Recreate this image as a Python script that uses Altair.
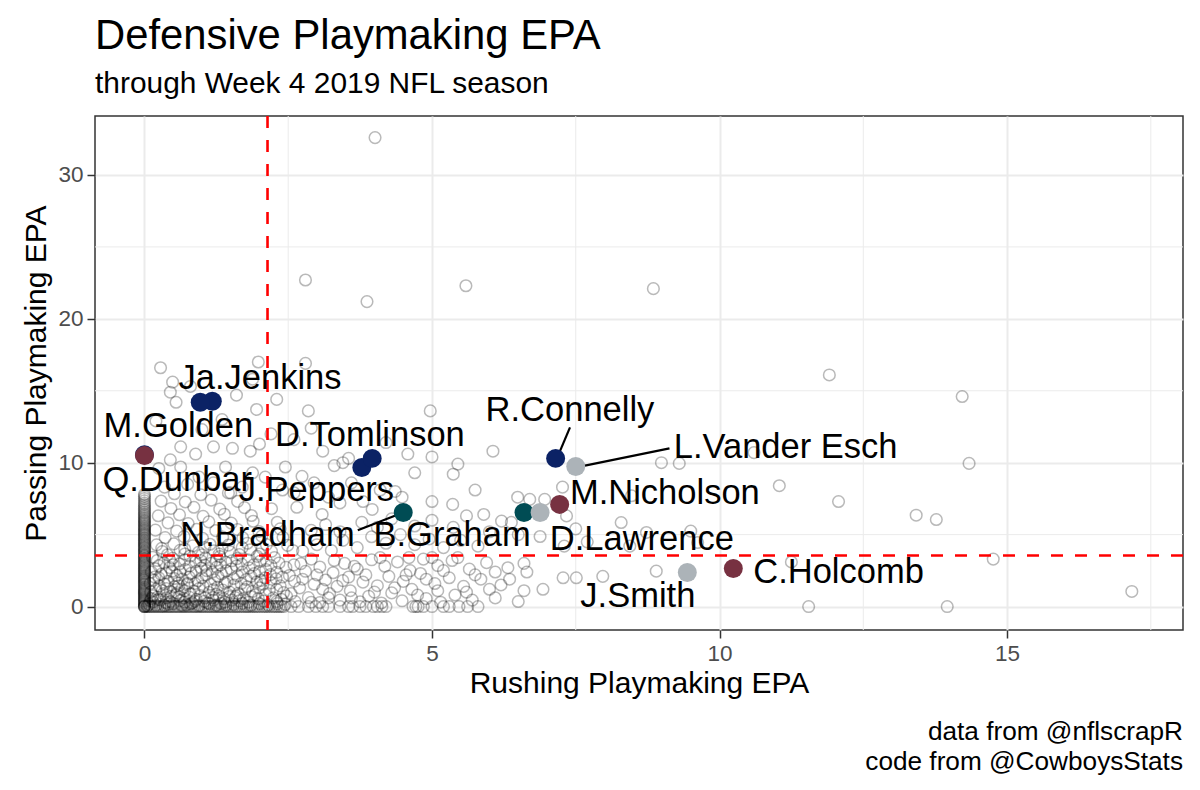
import altair as alt
import pandas as pd

# ---------------- data ----------------
# background: all defenders (rushing EPA, passing EPA)
bg_column_y = [0, 0, 0, 0.05, 0.12, 0.2, 0.27, 0.35, 0.41, 0.48, 0.55, 0.62, 0.7, 0.78, 0.86, 0.93,
               1.0, 1.08, 1.15, 1.22, 1.3, 1.38, 1.47, 1.55, 1.62, 1.7, 1.8, 1.87, 1.95, 2.02, 2.1,
               2.18, 2.28, 2.36, 2.45, 2.52, 2.6, 2.68, 2.77, 2.85, 2.93, 3.02, 3.1, 3.18, 3.28, 3.36,
               3.45, 3.52, 3.6, 3.7, 3.78, 3.86, 3.95, 4.04, 4.12, 4.2, 4.3, 4.38, 4.46, 4.55, 4.63,
               4.72, 4.8, 4.9, 4.98, 5.06, 5.15, 5.24, 5.33, 5.42, 5.5, 5.6, 5.7, 5.78, 5.88, 5.96,
               6.05, 6.15, 6.25, 6.36, 6.47, 6.58, 6.7, 6.82, 6.95, 7.08, 7.2, 7.35, 7.5, 7.65, 7.8]
bg_row_x = [0.04, 0.07, 0.1, 0.13, 0.17, 0.2, 0.23, 0.27, 0.3, 0.33, 0.36, 0.4, 0.43, 0.46, 0.5,
            0.53, 0.57, 0.6, 0.64, 0.67, 0.7, 0.74, 0.77, 0.81, 0.85, 0.88, 0.92, 0.95, 0.99, 1.02,
            1.06, 1.1, 1.13, 1.17, 1.21, 1.24, 1.28, 1.31, 1.35, 1.39, 1.42, 1.46, 1.5, 1.54, 1.58,
            1.61, 1.65, 1.69, 1.73, 1.77, 1.8, 1.84, 1.88, 1.92, 1.96, 2.0, 2.05, 2.09, 2.13, 2.17,
            2.22, 2.26, 2.3, 2.34, 2.38, 2.42, 2.55, 2.68, 2.85, 2.98, 3.1, 3.2, 3.4, 3.55, 3.62,
            3.75, 3.85, 3.98, 4.05, 4.13, 4.2, 4.67, 4.72, 4.76, 4.85, 5.0, 5.2, 5.3, 5.47, 5.62,
            5.8, 11.55, 13.96]
bg_dense = [
    (0.15, 0.32), (0.37, 0.28), (0.62, 0.41), (0.83, 0.25), (1.04, 0.36), (1.33, 0.22), (1.52, 0.45),
    (1.81, 0.3), (2.07, 0.38), (2.31, 0.2), (0.22, 0.64), (0.46, 0.71), (0.68, 0.58), (0.97, 0.77),
    (1.18, 0.62), (1.47, 0.69), (1.72, 0.55), (1.93, 0.81), (2.24, 0.6), (2.47, 0.73), (0.11, 1.02),
    (0.31, 1.11), (0.57, 0.95), (0.86, 1.08), (1.12, 0.99), (1.36, 1.15), (1.63, 0.92), (1.88, 1.06),
    (2.17, 1.13), (2.42, 0.97), (0.26, 1.43), (0.52, 1.37), (0.74, 1.52), (1.02, 1.41), (1.27, 1.35),
    (1.56, 1.49), (1.79, 1.38), (2.06, 1.55), (2.36, 1.44), (0.16, 1.83), (0.41, 1.76), (0.66, 1.91),
    (0.93, 1.79), (1.22, 1.86), (1.44, 1.72), (1.77, 1.88), (2.02, 1.81), (2.29, 1.93), (2.61, 1.77),
    (0.29, 2.24), (0.56, 2.17), (0.81, 2.31), (1.07, 2.2), (1.34, 2.27), (1.62, 2.13), (1.91, 2.3),
    (2.19, 2.22), (2.52, 2.16), (0.19, 2.63), (0.44, 2.71), (0.71, 2.58), (0.99, 2.67), (1.26, 2.74),
    (1.51, 2.6), (1.82, 2.69), (2.11, 2.57), (2.46, 2.72), (0.34, 3.04), (0.61, 2.97), (0.89, 3.12),
    (1.16, 3.01), (1.41, 3.09), (1.69, 2.95), (2.01, 3.14), (2.34, 3.03), (2.72, 2.98), (0.14, 3.43),
    (0.49, 3.36), (0.79, 3.51), (1.06, 3.39), (1.31, 3.47), (1.61, 3.33), (1.96, 3.49), (2.26, 3.41),
    (0.31, 3.82), (0.62, 3.91), (0.94, 3.77), (1.21, 3.88), (1.49, 3.8), (1.84, 3.95), (2.21, 3.84),
    (2.58, 3.9), (0.21, 4.29), (0.51, 4.36), (0.84, 4.22), (1.14, 4.33), (1.46, 4.27), (1.79, 4.4),
    (2.12, 4.31), (2.49, 4.25), (0.36, 4.79), (0.69, 4.86), (1.01, 4.74), (1.36, 4.83), (1.71, 4.77),
    (2.04, 4.9), (2.41, 4.81), (0.19, 5.31), (0.56, 5.24), (0.91, 5.37), (1.24, 5.28), (1.62, 5.35),
    (1.99, 5.22), (2.36, 5.4), (0.41, 5.82), (0.76, 5.77), (1.12, 5.89), (1.51, 5.8), (1.89, 5.93),
    (2.31, 5.86), (0.24, 6.31), (0.61, 6.38), (1.02, 6.27), (1.39, 6.42), (1.86, 6.33), (0.46, 6.82),
    (0.86, 6.9), (1.31, 6.77), (1.74, 6.88), (2.21, 6.8), (0.29, 7.33), (0.71, 7.27), (1.16, 7.4),
    (1.62, 7.31), (0.52, 7.84), (0.98, 7.77), (1.46, 7.9), (0.08, 0.15), (0.24, 0.5), (0.42, 0.16),
    (0.55, 0.82), (0.73, 0.12), (0.9, 0.5), (1.13, 0.18), (1.25, 0.85), (0.38, 1.25), (0.65, 1.22),
    (0.8, 0.88), (1.42, 0.12), (1.6, 0.75), (0.18, 2.05), (0.48, 2.45), (0.75, 1.62), (1.08, 2.5),
    (0.33, 0.9), (0.12, 0.55), (0.58, 1.62),
]
bg_dense2 = [
    (0.05, 0.05), (0.2, 0.1), (0.35, 0.08), (0.5, 0.2), (0.65, 0.1), (0.8, 0.18), (0.95, 0.08),
    (1.1, 0.25), (1.25, 0.1), (1.4, 0.3), (1.55, 0.15), (1.7, 0.22), (1.85, 0.1), (2.0, 0.2),
    (2.15, 0.12), (2.3, 0.35), (2.45, 0.15), (0.1, 0.4), (0.28, 0.45), (0.45, 0.35), (0.7, 0.3),
    (0.88, 0.38), (1.2, 0.45), (1.38, 0.55), (1.65, 0.4), (1.98, 0.55), (2.38, 0.5), (0.15, 0.75),
    (0.38, 0.6), (0.6, 0.7), (0.78, 0.65), (1.05, 0.6), (1.3, 0.75), (1.58, 0.62), (1.85, 0.7),
    (2.1, 0.85), (0.2, 1.2), (0.45, 1.05), (0.7, 1.1), (0.95, 1.25), (1.2, 1.18), (1.48, 1.0),
    (1.75, 1.2), (2.0, 1.3), (2.3, 1.2), (0.1, 1.6), (0.35, 1.55), (0.6, 1.45), (0.88, 1.6),
    (1.15, 1.55), (1.4, 1.62), (1.68, 1.6), (1.95, 1.7), (2.2, 1.65), (0.25, 2.0), (0.52, 1.95),
    (0.78, 2.05), (1.0, 2.0), (1.28, 2.08), (1.55, 1.95), (1.85, 2.1), (2.1, 2.0), (2.4, 2.05),
    (0.12, 2.4), (0.38, 2.35), (0.62, 2.42), (0.9, 2.45), (1.18, 2.4), (1.42, 2.48), (1.7, 2.4),
    (2.0, 2.45), (2.3, 2.38), (0.25, 2.85), (0.5, 2.9), (0.78, 2.82), (1.05, 2.88), (1.32, 2.9),
    (1.6, 2.82), (1.9, 2.9), (2.2, 2.85), (0.22, 3.2), (0.45, 3.15), (0.7, 3.25), (0.98, 3.2),
    (1.25, 3.22), (1.52, 3.18), (1.8, 3.25), (2.12, 3.2), (0.4, 3.6), (0.7, 3.65), (1.0, 3.6),
    (1.3, 3.65), (1.65, 3.62), (2.0, 3.65), (0.3, 4.05), (0.7, 4.0), (1.05, 4.1), (1.35, 4.05),
    (1.7, 4.1), (2.05, 4.05),
]
bg_mid = [
    (2.62, 0.35), (2.85, 0.62), (3.05, 0.28), (3.22, 0.9), (3.4, 0.45), (3.58, 1.1), (3.75, 0.33),
    (3.9, 0.72), (4.12, 0.25), (4.3, 0.95), (4.48, 0.4), (4.65, 1.2), (4.9, 0.55), (5.15, 0.3),
    (5.4, 0.8), (5.7, 0.45), (6.1, 0.6), (6.5, 0.35), (2.7, 1.3), (2.95, 1.55), (3.15, 1.85),
    (3.35, 1.4), (3.55, 2.05), (3.8, 1.7), (4.05, 1.45), (4.25, 2.1), (4.5, 1.75), (4.8, 2.3),
    (5.05, 1.6), (5.3, 2.0), (5.55, 1.4), (5.85, 1.9), (6.2, 1.5), (6.6, 1.1), (6.93, 1.2),
    (2.8, 2.45), (3.05, 2.75), (3.28, 2.35), (3.48, 3.0), (3.7, 2.6), (3.95, 3.25), (4.18, 2.8),
    (4.4, 3.1), (4.62, 2.5), (4.85, 3.3), (5.1, 2.85), (5.35, 3.2), (5.65, 2.6), (5.95, 3.05),
    (6.32, 2.7), (6.65, 2.4), (7.28, 2.0), (7.51, 2.0), (7.97, 2.1), (8.9, 2.46), (2.75, 3.85),
    (3.0, 4.3), (3.25, 3.9), (3.45, 4.6), (3.7, 4.1), (3.95, 4.85), (4.2, 4.4), (4.45, 5.0),
    (4.7, 4.3), (4.95, 4.7), (5.2, 4.1), (5.5, 4.6), (5.8, 4.2), (6.0, 5.2), (6.5, 5.0),
    (6.88, 4.87), (7.3, 4.2), (7.7, 4.5), (8.44, 4.2), (8.73, 5.15), (9.5, 5.24), (9.62, 4.45),
    (2.9, 5.3), (3.15, 5.7), (3.4, 5.2), (3.09, 6.4), (3.78, 5.85), (4.05, 5.5), (4.3, 6.1),
    (3.96, 6.75), (4.7, 5.6), (5.0, 6.0), (5.37, 5.5), (5.6, 6.3), (5.9, 6.4), (6.21, 5.94),
    (6.38, 5.85), (7.34, 6.3), (8.29, 5.84), (7.5, 5.4), (2.65, 6.9), (3.4, 7.2), (4.48, 7.6),
    (4.36, 8.0), (5.36, 7.1), (5.75, 8.1), (6.49, 7.6), (6.7, 7.45), (6.96, 7.45), (7.27, 8.3),
    (8.47, 7.7), (5.0, 7.3), (2.55, 0.9), (2.75, 1.9), (2.9, 0.3), (3.0, 2.2), (3.1, 1.2),
    (3.3, 3.2), (3.45, 1.8), (3.6, 0.6), (3.65, 2.8), (3.85, 2.2), (4.0, 1.0), (4.1, 3.4),
    (4.35, 1.3), (4.55, 2.2), (4.75, 0.8), (4.9, 1.9), (5.1, 1.1), (5.2, 2.5), (5.45, 3.4),
    (5.6, 1.0), (5.75, 2.2), (6.0, 1.2), (6.1, 2.4), (6.35, 1.9), (6.6, 3.0), (2.6, 2.9),
    (2.9, 3.3), (3.2, 0.6), (4.6, 3.4), (5.0, 3.4),
]
bg_upper = [
    (0.28, 16.6), (0.49, 15.6), (1.98, 17.0), (1.88, 15.8), (0.45, 14.9), (1.95, 13.7), (2.85, 13.6),
    (4.97, 13.6), (2.8, 16.9), (0.63, 11.1), (1.2, 11.1), (1.53, 11.0), (1.84, 10.8), (0.89, 10.6),
    (0.45, 10.2), (1.41, 9.7), (2.45, 9.7), (3.45, 10.0), (4.58, 10.6), (5.0, 10.4), (2.74, 9.05),
    (1.88, 9.3), (0.63, 9.7), (0.8, 15.3), (0.55, 14.2), (1.6, 14.7), (2.3, 14.4), (2.2, 12.0),
    (0.2, 12.9), (1.0, 12.3), (1.35, 13.0), (2.6, 11.6), (0.25, 9.6), (0.95, 9.0), (1.2, 8.6),
    (1.7, 8.3), (2.1, 9.0), (2.4, 8.1), (2.9, 12.4), (3.3, 9.8), (3.55, 10.3), (3.1, 10.8),
    (2.0, 11.3), (0.75, 8.5), (0.35, 8.3), (1.5, 7.9), (2.6, 7.9), (3.2, 7.6), (3.6, 8.6),
    (4.1, 8.1), (4.7, 9.3), (5.37, 9.2), (5.45, 9.9), (4.2, 11.4), (6.06, 10.8), (2.95, 8.6),
    (3.8, 7.3),
]
bg_outliers = [
    (4.01, 32.6), (2.80, 22.7), (3.87, 21.2), (5.59, 22.3), (8.85, 22.1), (11.91, 16.1),
    (14.22, 14.6), (14.34, 9.95), (11.04, 8.4), (12.07, 7.3), (13.42, 6.35), (13.77, 6.05),
    (14.76, 3.3), (17.17, 1.05), (11.25, 3.1), (10.6, 10.7), (8.99, 10.0), (9.3, 9.95),
]

# highlighted NFC East defenders
player_names = ["NYG (unlabeled)", "Ja.Jenkins", "M.Golden", "Q.Dunbar", "J.Peppers", "D.Tomlinson",
                "N.Bradham", "B.Graham", "D.Lawrence", "M.Nicholson", "R.Connelly",
                "L.Vander Esch", "J.Smith", "C.Holcomb"]
player_team = ["NYG", "NYG", "NYG", "WAS", "NYG", "NYG", "PHI", "PHI", "DAL", "WAS", "NYG",
               "DAL", "DAL", "WAS"]
player_rush = [1.18, 0.97, 0.0, 0.0, 3.78, 3.96, 4.50, 6.60, 6.88, 7.22, 7.15, 7.50, 9.44, 10.24]
player_pass = [14.27, 14.2, 10.55, 10.5, 9.67, 10.3, 6.54, 6.54, 6.54, 7.10, 10.3, 9.74, 2.37, 2.64]

teams = ["NYG", "WAS", "PHI", "DAL"]
team_colors = ["#0B2265", "#773141", "#004C54", "#ACB3B8"]

# repelled label anchors (data units)
label_names = ["Ja.Jenkins", "M.Golden", "Q.Dunbar", "D.Tomlinson", "J.Peppers", "N.Bradham",
               "B.Graham", "R.Connelly", "L.Vander Esch", "M.Nicholson", "D.Lawrence", "J.Smith",
               "C.Holcomb"]
label_x = [2.01, 0.59, 0.57, 3.92, 2.99, 2.14, 5.35, 7.40, 11.15, 9.05, 8.65, 8.58, 12.07]
label_y = [15.8, 12.46, 8.7, 11.83, 8.0, 4.87, 4.87, 13.57, 11.0, 7.8, 4.6, 0.63, 2.3]

# leader segments (label end -> point)
seg_x = [3.71, 7.40, 9.13]
seg_y = [5.31, 12.46, 11.0]
seg_x2 = [4.51, 7.18, 7.51]
seg_y2 = [6.56, 10.37, 9.67]

# reference lines (averages)
rush_avg = 2.14
pass_avg = 3.55

x_ticks = [0, 5, 10, 15]
y_ticks = [0, 10, 20, 30]
x_minor = [2.5, 7.5, 12.5, 17.5]
y_minor = [5, 15, 25]
x_domain = [-0.86, 18.06]
y_domain = [-1.63, 34.1]

# ---------------- build ----------------
bg_pts = ([(0.0, v) for v in bg_column_y] + [(v, 0.0) for v in bg_row_x]
          + bg_dense + bg_dense2 + bg_mid + bg_upper + bg_outliers)
bg_df = pd.DataFrame(bg_pts, columns=["x", "y"])
pl_df = pd.DataFrame({"name": player_names, "team": player_team, "x": player_rush, "y": player_pass})
lab_df = pd.DataFrame({"name": label_names, "x": label_x, "y": label_y})
seg_df = pd.DataFrame({"x": seg_x, "y": seg_y, "x2": seg_x2, "y2": seg_y2})

FONT = "Liberation Sans"
XT = "Rushing Playmaking EPA"
YT = "Passing Playmaking EPA"


def X(field="x"):
    return alt.X(f"{field}:Q", title=XT,
                 scale=alt.Scale(domain=x_domain, nice=False, zero=False),
                 axis=alt.Axis(values=x_ticks, format="d"))


def Y(field="y"):
    return alt.Y(f"{field}:Q", title=YT,
                 scale=alt.Scale(domain=y_domain, nice=False, zero=False),
                 axis=alt.Axis(values=y_ticks, format="d"))


grid_x = alt.Chart(pd.DataFrame({"x": x_minor})).mark_rule(color="#EBEBEB", strokeWidth=1).encode(x=X())
grid_y = alt.Chart(pd.DataFrame({"y": y_minor})).mark_rule(color="#EBEBEB", strokeWidth=1).encode(y=Y())

bg = alt.Chart(bg_df).mark_point(shape="circle", filled=False, size=135, color="black",
                                 opacity=0.27, strokeWidth=1.5).encode(x=X(), y=Y())

vline = alt.Chart(pd.DataFrame({"x": [rush_avg]})).mark_rule(
    color="#FF0000", strokeWidth=2.6, strokeDash=[12, 12]).encode(x=X())
hline = alt.Chart(pd.DataFrame({"y": [pass_avg]})).mark_rule(
    color="#FF0000", strokeWidth=2.6, strokeDash=[12, 12]).encode(y=Y())

segs = alt.Chart(seg_df).mark_rule(color="black", strokeWidth=2.2).encode(
    x=X(), y=Y(), x2="x2:Q", y2="y2:Q")

players = alt.Chart(pl_df).mark_circle(size=360, opacity=1).encode(
    x=X(), y=Y(),
    color=alt.Color("team:N", scale=alt.Scale(domain=teams, range=team_colors), legend=None))

labels = alt.Chart(lab_df).mark_text(font=FONT, fontSize=34.5, color="black", align="center",
                                     baseline="middle").encode(x=X(), y=Y(), text="name:N")

caption = alt.Chart(pd.DataFrame({"t": ["data from @nflscrapR\ncode from @CowboysStats"]})).mark_text(
    font=FONT, fontSize=26.2, color="black", align="right", baseline="alphabetic",
    lineBreak="\n", lineHeight=30).encode(x=alt.value(1088), y=alt.value(624), text="t:N")

chart = alt.layer(grid_x, grid_y, bg, vline, hline, segs, players, labels, caption).properties(
    width=1088, height=514,
    padding={"left": 87, "top": 108, "right": 5, "bottom": 150},
    autosize=alt.AutoSizeParams(type="none"),
    title=alt.TitleParams(
        text="Defensive Playmaking EPA",
        subtitle="through Week 4 2019 NFL season",
        anchor="start", frame="group", font=FONT, fontSize=41.8, fontWeight="normal",
        color="black", subtitleFont=FONT, subtitleFontSize=29.9, subtitleColor="black",
        subtitlePadding=11, offset=16),
).configure_view(
    stroke="#333333", strokeWidth=1.5
).configure_axis(
    labelFont=FONT, labelFontSize=22.5, labelColor="#4D4D4D",
    titleFont=FONT, titleFontSize=30, titleColor="black", titleFontWeight="normal",
    tickColor="#333333", tickSize=8, tickWidth=1.5, labelPadding=4,
    domain=False, gridColor="#EBEBEB", gridWidth=2
).configure_axisX(titlePadding=4).configure_axisY(titlePadding=6)

chart.save("out.html", embed_options={"renderer": "svg", "actions": False})
